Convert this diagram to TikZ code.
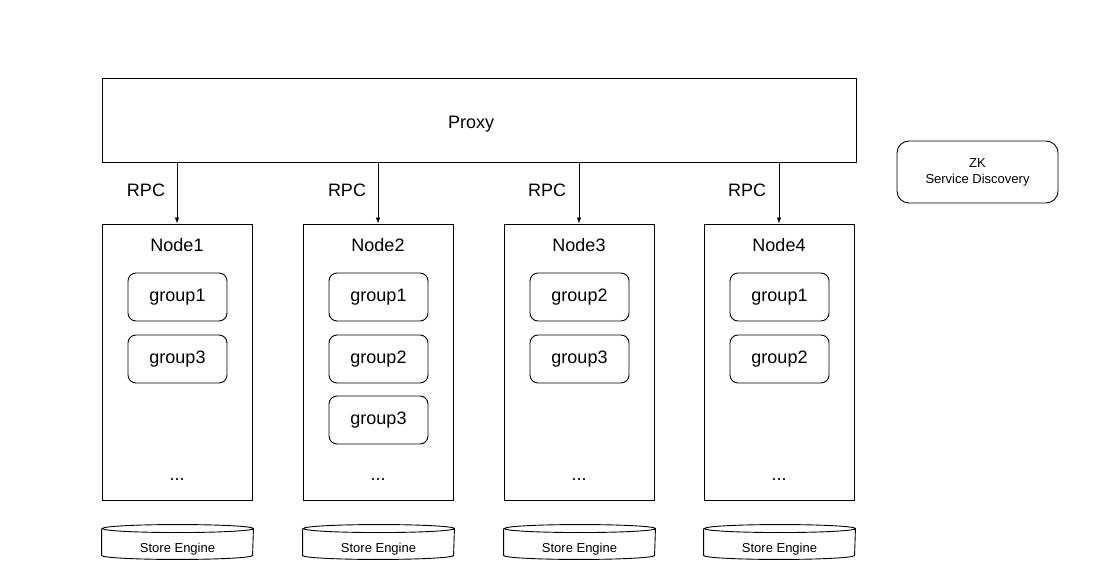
\documentclass[tikz,border=0pt]{standalone}
\usepackage{fontspec}
\setmainfont{Liberation Sans}
\usetikzlibrary{arrows.meta}

\begin{document}
\begin{tikzpicture}[x=1pt,y=1pt,line width=0.9pt,
    bigbox/.style={draw,minimum width=150pt,minimum height=276pt,inner sep=0pt},
    groupbox/.style={draw,rounded corners=8pt,minimum width=99pt,minimum height=48pt,
                     inner sep=0pt,font=\fontsize{18}{21}\selectfont},
    store/.style={minimum width=151pt,minimum height=20pt,inner sep=0pt,
                  font=\fontsize{13}{15}\selectfont},
    lbl/.style={font=\fontsize{18}{21}\selectfont},
    rpc/.style={->,>={Latex[length=6pt,width=4.5pt]},line width=0.8pt}]

          \useasboundingbox (0,0) rectangle (1113,581);

          \node[draw,minimum width=754pt,minimum height=84pt] (proxy) at (479,461) {};
          \node[lbl] (proxytext) at (471,457) {Proxy};

          \node[draw,rounded corners=12pt,minimum width=161pt,minimum height=62pt,align=center,
                font=\fontsize{13}{16}\selectfont] (zk) at (977.5,409) {ZK\\ Service Discovery};

          % nodes
          \node[bigbox] (node1) at (177,219) {};
          \node[bigbox] (node2) at (378,219) {};
          \node[bigbox] (node3) at (579,219) {};
          \node[bigbox] (node4) at (779,219) {};

          \node[lbl] (title1) at (177,336) {Node1};
          \node[lbl] (title2) at (378,336) {Node2};
          \node[lbl] (title3) at (579,336) {Node3};
          \node[lbl] (title4) at (779,336) {Node4};

          \node[groupbox] (g11) at (177.5,284) {group1};
          \node[groupbox] (g13) at (177.5,222) {group3};
          \node[groupbox] (g21) at (378.5,284) {group1};
          \node[groupbox] (g22) at (378.5,222) {group2};
          \node[groupbox] (g23) at (378.5,161) {group3};
          \node[groupbox] (g32) at (579.5,284) {group2};
          \node[groupbox] (g33) at (579.5,222) {group3};
          \node[groupbox] (g41) at (779.5,284) {group1};
          \node[groupbox] (g42) at (779.5,222) {group2};

          \node[lbl] (dots1) at (177,101) {...};
          \node[lbl] (dots2) at (378,101) {...};
          \node[lbl] (dots3) at (579,101) {...};
          \node[lbl] (dots4) at (779,101) {...};

          % rpc links
          \draw[rpc] (node1.north |- proxy.south) -- (node1.north);
          \draw[rpc] (node2.north |- proxy.south) -- (node2.north);
          \draw[rpc] (node3.north |- proxy.south) -- (node3.north);
          \draw[rpc] (node4.north |- proxy.south) -- (node4.north);

          \node[lbl] (rpc1) at (146,391) {RPC};
          \node[lbl] (rpc2) at (347,391) {RPC};
          \node[lbl] (rpc3) at (547,391) {RPC};
          \node[lbl] (rpc4) at (747,391) {RPC};

          % store engines
          \node[store] (se1) at (177.5,32) {Store Engine};
          \node[store] (se2) at (378.5,32) {Store Engine};
          \node[store] (se3) at (579.5,32) {Store Engine};
          \node[store] (se4) at (779.5,32) {Store Engine};

          \draw ([yshift=10pt]se1.north west) -- ([yshift=4pt]se1.south west)
              arc[start angle=180,end angle=360,x radius=75.5pt,y radius=4pt]
              -- ([yshift=10pt]se1.north east)
              arc[start angle=0,end angle=360,x radius=75.5pt,y radius=4pt];
          \draw ([yshift=10pt]se2.north west) -- ([yshift=4pt]se2.south west)
              arc[start angle=180,end angle=360,x radius=75.5pt,y radius=4pt]
              -- ([yshift=10pt]se2.north east)
              arc[start angle=0,end angle=360,x radius=75.5pt,y radius=4pt];
          \draw ([yshift=10pt]se3.north west) -- ([yshift=4pt]se3.south west)
              arc[start angle=180,end angle=360,x radius=75.5pt,y radius=4pt]
              -- ([yshift=10pt]se3.north east)
              arc[start angle=0,end angle=360,x radius=75.5pt,y radius=4pt];
          \draw ([yshift=10pt]se4.north west) -- ([yshift=4pt]se4.south west)
              arc[start angle=180,end angle=360,x radius=75.5pt,y radius=4pt]
              -- ([yshift=10pt]se4.north east)
              arc[start angle=0,end angle=360,x radius=75.5pt,y radius=4pt];
      \end{tikzpicture}
\end{document}
